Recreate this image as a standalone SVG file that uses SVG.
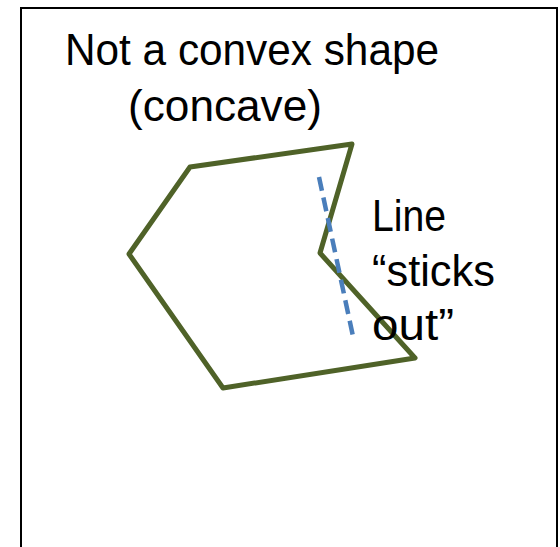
<svg xmlns="http://www.w3.org/2000/svg" width="560" height="547" viewBox="0 0 560 547">
<style>
.t{font-family:"Liberation Sans",Arial,sans-serif;fill:#000;font-size:44px}
</style>
<rect x="0" y="0" width="560" height="547" fill="#fff"/>
<rect id="frame" x="21" y="8" width="536" height="560" fill="none" stroke="#000" stroke-width="2"/>
<g id="title">
<text class="t" x="65" y="65" textLength="374" lengthAdjust="spacingAndGlyphs">Not a convex shape</text>
<text class="t" x="128" y="121" textLength="194" lengthAdjust="spacingAndGlyphs">(concave)</text>
</g>
<g id="shape">
<polygon points="190,167 352,144 320,253 415,358 223,388 129,254" fill="none" stroke="#4f6228" stroke-width="5" stroke-linejoin="round"/>
</g>
<g id="connectors">
<line x1="319" y1="177" x2="354" y2="341" stroke="#4a7ebb" stroke-width="4.5" stroke-dasharray="14,7"/>
</g>
<g id="label">
<text class="t" x="372" y="231" textLength="74" lengthAdjust="spacingAndGlyphs">Line</text>
<text class="t" x="372" y="286" textLength="123" lengthAdjust="spacingAndGlyphs">“sticks</text>
<text class="t" x="372" y="340" textLength="82" lengthAdjust="spacingAndGlyphs">out”</text>
</g>
</svg>
